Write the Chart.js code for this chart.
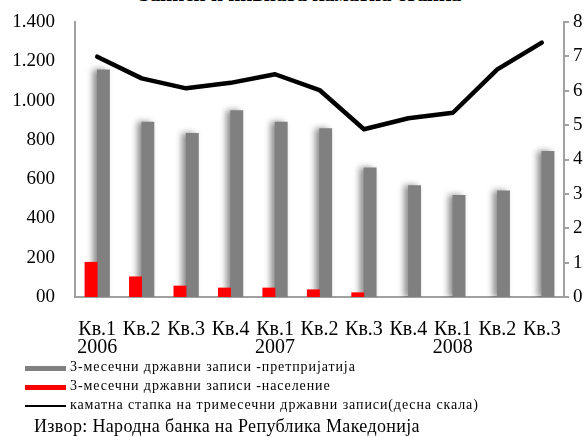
<!DOCTYPE html>
<html>
<head>
<meta charset="utf-8">
<script src="https://cdn.jsdelivr.net/npm/chart.js@4.4.1/dist/chart.umd.min.js"></script>
<style>
  html, body { margin: 0; padding: 0; background: #fff; }
  body { width: 588px; height: 437px; position: relative; overflow: hidden; font-family: "Liberation Serif", serif; }
  #title { position: absolute; left: 0; width: 600px; top: -18px; text-align: center; font-weight: bold; font-size: 21px; color: #000; white-space: nowrap; }
  #wrap { position: absolute; left: 0; top: 0; width: 588px; height: 360px; }
  .leg { position: absolute; left: 25px; font-size: 14px; letter-spacing: 0.9px; color: #000; white-space: nowrap; }
  .sw { position: absolute; left: 0; width: 41px; }
  .leg span { position: absolute; left: 45px; top: -9px; }
  #src { position: absolute; left: 34px; top: 416px; font-size: 18px; letter-spacing: 0.35px; white-space: nowrap; }
</style>
</head>
<body>
<div id="title">Записи и нивната каматна стапка</div>
<div id="wrap"><canvas id="c"></canvas></div>
<div class="leg" style="top:368px"><div class="sw" style="top:-2px;height:5px;background:#808080"></div><span id="l0"></span></div>
<div class="leg" style="top:387px"><div class="sw" style="top:-2px;height:5px;background:#ff0000"></div><span id="l1"></span></div>
<div class="leg" style="top:406px"><div class="sw" style="top:-1px;height:2px;background:#000"></div><span id="l2"></span></div>
<div id="src">Извор: Народна банка на Република Македонија</div>
<script>
const categories = [["Кв.1","2006"],"Кв.2","Кв.3","Кв.4",["Кв.1","2007"],"Кв.2","Кв.3","Кв.4",["Кв.1","2008"],"Кв.2","Кв.3"];
const seriesNames = ["3-месечни државни записи -претпријатија","3-месечни државни записи -население","каматна стапка на тримесечни државни записи(десна скала)"];
const enterprises = [1156, 891, 833, 949, 891, 857, 658, 567, 518, 541, 742];
const households = [177, 103, 56, 46, 46, 37, 22, null, null, null, null];
const rate = [6.99, 6.36, 6.07, 6.23, 6.48, 6.02, 4.88, 5.20, 5.36, 6.62, 7.40];
const leftTicks = [0, 200, 400, 600, 800, 1000, 1200, 1400];
const rightTicks = [0, 1, 2, 3, 4, 5, 6, 7, 8];

document.getElementById('l0').textContent = seriesNames[0];
document.getElementById('l1').textContent = seriesNames[1];
document.getElementById('l2').textContent = seriesNames[2];

const fontTick = { family: "Liberation Serif", size: 19 };
const fontX = { family: "Liberation Serif", size: 20, lineHeight: 0.88 };

const shadowPlugin = {
  id: 'barShadow',
  beforeDatasetDraw(chart, args) {
    if (args.index === 0) {
      const ctx = chart.ctx;
      ctx.save();
      ctx.shadowColor = 'rgba(0,0,0,0.45)';
      ctx.shadowBlur = 6;
      ctx.shadowOffsetX = -4;
      ctx.shadowOffsetY = 0;
    }
  },
  afterDatasetDraw(chart, args) {
    if (args.index === 0) chart.ctx.restore();
  }
};

function fmtLeft(v) {
  if (v === 0) return '00';
  if (v >= 1000) return Math.floor(v / 1000) + '.' + String(v % 1000).padStart(3, '0');
  return String(v);
}

new Chart(document.getElementById('c'), {
  type: 'bar',
  data: {
    labels: categories,
    datasets: [
      { label: seriesNames[0], data: enterprises, backgroundColor: '#808080', yAxisID: 'y', order: 2, barThickness: 12.3 },
      { label: seriesNames[1], data: households, backgroundColor: '#ff0000', yAxisID: 'y', order: 1, barThickness: 12.3 },
      { type: 'line', label: seriesNames[2], data: rate, borderColor: '#000', borderWidth: 4.5, pointRadius: 0, tension: 0, yAxisID: 'y1', order: 0, borderCapStyle: 'round', borderJoinStyle: 'round' }
    ]
  },
  plugins: [shadowPlugin],
  options: {
    responsive: true,
    maintainAspectRatio: false,
    animation: false,
    layout: { padding: { top: 22, left: 0, right: 0, bottom: 0 } },
    plugins: { legend: { display: false }, tooltip: { enabled: false }, title: { display: false } },
    scales: {
      x: {
        grid: { display: false, drawTicks: false },
        border: { display: true, color: '#a0a0a0', width: 2 },
        ticks: { color: '#000', font: fontX, padding: 24, autoSkip: false, maxRotation: 0, minRotation: 0 },
        afterFit(s) { s.height = 63; }
      },
      y: {
        position: 'left',
        min: 0, max: 1400,
        afterBuildTicks(s) { s.ticks = leftTicks.map(v => ({ value: v })); },
        grid: { display: false, drawTicks: false },
        border: { display: true, color: '#a0a0a0', width: 2 },
        ticks: { color: '#000', font: fontTick, padding: 20, callback: fmtLeft },
        afterFit(s) { s.width = 75; s.paddingTop = 10; s.paddingBottom = 10; }
      },
      y1: {
        position: 'right',
        min: 0, max: 8,
        afterBuildTicks(s) { s.ticks = rightTicks.map(v => ({ value: v })); },
        grid: { display: true, drawOnChartArea: false, drawTicks: true, tickLength: 5, color: '#a0a0a0', lineWidth: 2 },
        border: { display: true, color: '#a0a0a0', width: 2 },
        ticks: { color: '#000', font: fontTick, padding: 4 },
        afterFit(s) { s.width = 24; s.paddingTop = 10; s.paddingBottom = 10; }
      }
    }
  }
});
</script>
</body>
</html>
